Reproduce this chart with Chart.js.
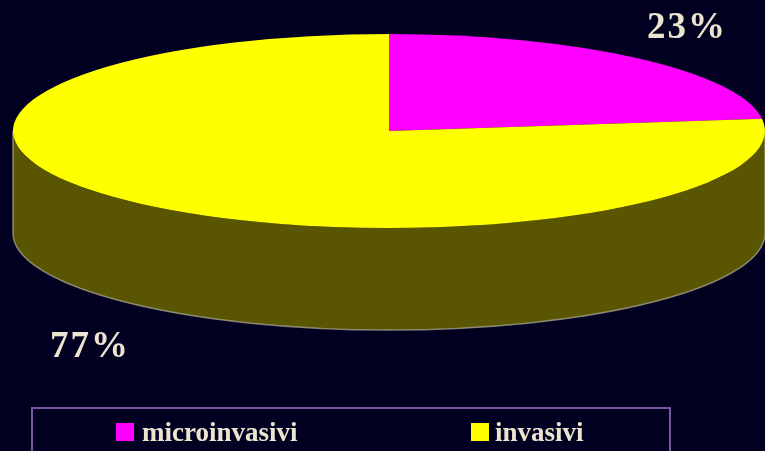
<!DOCTYPE html>
<html>
<head>
<meta charset="utf-8">
<script src="https://cdn.jsdelivr.net/npm/chart.js@4.4.1/dist/chart.umd.min.js"></script>
<style>
    body { margin: 0; background: #020020; }
    #wrap { position: relative; width: 765px; height: 451px; overflow: hidden; background: #020020; }
    #legenda {
        position: absolute; left: 31px; top: 407px; width: 640px; height: 70px;
        border: 2px solid #7656a8; box-sizing: border-box;
    }
    .kotak { position: absolute; width: 18px; height: 18px; }
    .teks {
        position: absolute; font: bold 27px "Liberation Serif", "Times New Roman", serif;
        line-height: 27px; color: #ebe4cf; white-space: nowrap;
    }
</style>
</head>
<body>
<div id="wrap">
    <canvas id="pieChart" width="765" height="451"></canvas>
    <div id="legenda"></div>
</div>
<script>
const kategori = ["microinvasivi", "invasivi"];
const nilai = [23, 77];
const labelPersen = ["23%", "77%"];
const warnaAtas = ["#ff00ff", "#ffff00"];
const warnaSisi = ["#5a005a", "#5a5500"];

// geometri elips 3D
const pusatX = 389, pusatY = 131, radX = 376, radY = 97, tebal = 102;

// legenda HTML
const legenda = document.getElementById("legenda");
const posisiLegenda = [{ kotak: 116, teks: 142 }, { kotak: 471, teks: 495 }];
kategori.forEach((nama, i) => {
    const k = document.createElement("div");
    k.className = "kotak";
    k.style.left = (posisiLegenda[i].kotak - 33) + "px";
    k.style.top = (423 - 409) + "px";
    k.style.background = warnaAtas[i];
    legenda.appendChild(k);
    const t = document.createElement("div");
    t.className = "teks";
    t.style.left = (posisiLegenda[i].teks - 33) + "px";
    t.style.top = (419 - 409) + "px";
    t.textContent = nama;
    legenda.appendChild(t);
});

const pie3d = {
    id: "pie3d",
    beforeDatasetsDraw(chart) {
        const ctx = chart.ctx;
        const arcs = chart.getDatasetMeta(0).data;

        // sisi depan (tebal)
        arcs.forEach((arc, i) => {
            const { startAngle, endAngle } = arc.getProps(["startAngle", "endAngle"], true);
            for (let k = -1; k <= 1; k++) {
                const s = startAngle + 2 * Math.PI * k;
                const e = endAngle + 2 * Math.PI * k;
                const lo = Math.max(s, 0), hi = Math.min(e, Math.PI);
                if (hi <= lo) continue;
                ctx.save();
                ctx.beginPath();
                ctx.ellipse(pusatX, pusatY, radX, radY, 0, lo, hi);
                ctx.ellipse(pusatX, pusatY + tebal, radX, radY, 0, hi, lo, true);
                ctx.closePath();
                ctx.fillStyle = warnaSisi[i];
                ctx.fill();
                ctx.restore();
            }
        });

        // garis tepi sisi
        ctx.save();
        ctx.beginPath();
        ctx.moveTo(pusatX - radX, pusatY);
        ctx.lineTo(pusatX - radX, pusatY + tebal);
        ctx.ellipse(pusatX, pusatY + tebal, radX, radY, 0, Math.PI, 0, true);
        ctx.lineTo(pusatX + radX, pusatY);
        ctx.strokeStyle = "rgba(170,165,150,0.75)";
        ctx.lineWidth = 1.5;
        ctx.stroke();
        ctx.restore();

        // permukaan atas: lingkaran Chart.js dipipihkan jadi elips
        const a = arcs[0];
        const R = a.outerRadius;
        ctx.save();
        ctx.translate(pusatX, pusatY);
        ctx.scale(radX / R, radY / R);
        ctx.translate(-a.x, -a.y);
    },
    afterDatasetsDraw(chart) {
        chart.ctx.restore();
    },
    afterDraw(chart) {
        const ctx = chart.ctx;
        const posisiLabel = [{ x: 687, y: 38 }, { x: 90, y: 357 }];
        ctx.save();
        ctx.font = 'bold 37px "Liberation Serif", "Times New Roman", serif';
        ctx.fillStyle = "#ebe4cf";
        ctx.textAlign = "center";
        ctx.textBaseline = "alphabetic";
        ctx.letterSpacing = "2px";
        labelPersen.forEach((txt, i) => {
            ctx.fillText(txt, posisiLabel[i].x, posisiLabel[i].y);
        });
        ctx.restore();
    }
};

const ctx = document.getElementById("pieChart").getContext("2d");
const pieChart = new Chart(ctx, {
    type: "pie",
    data: {
        labels: kategori,
        datasets: [{
            data: nilai,
            backgroundColor: warnaAtas,
            borderWidth: 0,
            clip: false
        }]
    },
    options: {
        responsive: false,
        animation: false,
        events: [],
        layout: { padding: 20 },
        plugins: {
            legend: { display: false },
            tooltip: { enabled: false }
        }
    },
    plugins: [pie3d]
});
</script>
</body>
</html>
